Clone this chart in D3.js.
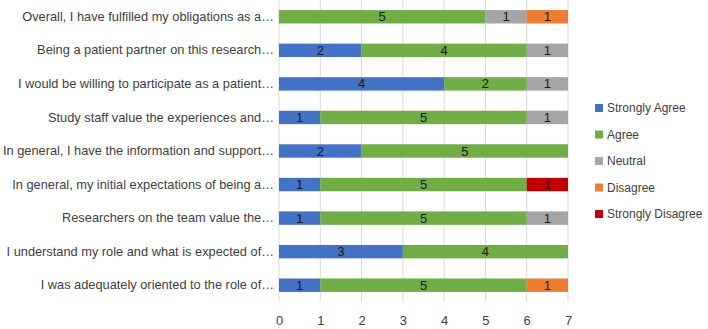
<!DOCTYPE html>
<html>
<head>
<meta charset="utf-8">
<script src="https://cdn.jsdelivr.net/npm/d3@7"></script>
<style>
body { margin: 0; background: #fff; }
text { font-family: "Liberation Sans", "DejaVu Sans", sans-serif; }
</style>
</head>
<body>
<svg id="drawing_region"></svg>
<script>
var categories = [
    'Overall, I have fulfilled my obligations as a\u2026',
    'Being a patient partner on this research\u2026',
    'I would be willing to participate as a patient\u2026',
    'Study staff value the experiences and\u2026',
    'In general, I have the information and support\u2026',
    'In general, my initial expectations of being a\u2026',
    'Researchers on the team value the\u2026',
    'I understand my role and what is expected of\u2026',
    'I was adequately oriented to the role of\u2026'
];
var seriesNames = ['Strongly Agree', 'Agree', 'Neutral', 'Disagree', 'Strongly Disagree'];
var stronglyAgree    = [0, 2, 4, 1, 2, 1, 1, 3, 1];
var agree            = [5, 4, 2, 5, 5, 5, 5, 4, 5];
var neutral          = [1, 1, 1, 1, 0, 0, 1, 0, 0];
var disagree         = [1, 0, 0, 0, 0, 0, 0, 0, 1];
var stronglyDisagree = [0, 0, 0, 0, 0, 1, 0, 0, 0];
var xTicks = [0, 1, 2, 3, 4, 5, 6, 7];
var colors = ['#4472C4', '#70AD47', '#A5A5A5', '#ED7D31', '#C00000'];

var width = 708;
var height = 329;
var margin = {top: 0, right: 140, bottom: 27, left: 279};

var svg = d3.select('#drawing_region')
    .attr('width', width)
    .attr('height', height);

var chart = svg.append('g')
    .attr('transform', `translate(${margin.left}, ${margin.top})`);
var inner_width = 568 - margin.left;
var inner_height = height - margin.top - margin.bottom;

var table = categories.map((c, i) => ({
    label: c,
    'Strongly Agree': stronglyAgree[i],
    'Agree': agree[i],
    'Neutral': neutral[i],
    'Disagree': disagree[i],
    'Strongly Disagree': stronglyDisagree[i]
}));
var stacked = d3.stack().keys(seriesNames)(table);

var xscale = d3.scaleLinear()
    .domain([0, 7])
    .range([0, inner_width]);

var yscale = d3.scaleBand()
    .domain(categories)
    .range([0, inner_height])
    .paddingInner(0.6)
    .paddingOuter(0.3);

// gridlines
chart.selectAll('line.grid')
    .data(xTicks)
    .join('line')
    .attr('class', 'grid')
    .attr('x1', d => xscale(d)).attr('x2', d => xscale(d))
    .attr('y1', 0).attr('y2', inner_height)
    .attr('stroke', '#d9d9d9')
    .attr('stroke-width', 1);

// bars
var groups = chart.selectAll('g.series')
    .data(stacked)
    .join('g')
    .attr('class', 'series')
    .attr('fill', (d, i) => colors[i]);

groups.selectAll('rect')
    .data(d => d.map(v => ({v: v, label: v.data.label, key: d.key})))
    .join('rect')
    .attr('x', d => xscale(d.v[0]))
    .attr('y', d => yscale(d.label))
    .attr('width', d => xscale(d.v[1]) - xscale(d.v[0]))
    .attr('height', yscale.bandwidth());

groups.selectAll('text')
    .data(d => d.filter(v => v[1] - v[0] > 0).map(v => ({v: v, label: v.data.label})))
    .join('text')
    .attr('x', d => xscale((d.v[0] + d.v[1]) / 2))
    .attr('y', d => yscale(d.label) + yscale.bandwidth() / 2)
    .attr('dy', '0.35em')
    .attr('text-anchor', 'middle')
    .attr('fill', '#1a1a1a')
    .style('font-size', '13px')
    .text(d => d.v[1] - d.v[0]);

// axes
var xaxis = d3.axisBottom(xscale).tickValues(xTicks).tickFormat(d3.format('d')).tickSize(0).tickPadding(14);
var xg = chart.append('g')
    .attr('transform', `translate(0, ${inner_height})`)
    .call(xaxis);
xg.select('.domain').remove();
xg.selectAll('text').style('font-size', '13px').attr('fill', '#404040');

var yaxis = d3.axisLeft(yscale).tickSize(0).tickPadding(5);
var yg = chart.append('g').call(yaxis);
yg.select('.domain').remove();
yg.selectAll('text').style('font-size', '12.8px').attr('fill', '#404040');

// legend
var legend = svg.append('g').attr('transform', 'translate(595, 108)');
var items = legend.selectAll('g')
    .data(seriesNames)
    .join('g')
    .attr('transform', (d, i) => `translate(0, ${i * 26.5})`);
items.append('rect')
    .attr('x', 0).attr('y', -4)
    .attr('width', 8).attr('height', 8)
    .attr('fill', (d, i) => colors[i]);
items.append('text')
    .attr('x', 12).attr('y', 0).attr('dy', '0.35em')
    .attr('fill', '#404040')
    .style('font-size', '12px')
    .text(d => d);
</script>
</body>
</html>
